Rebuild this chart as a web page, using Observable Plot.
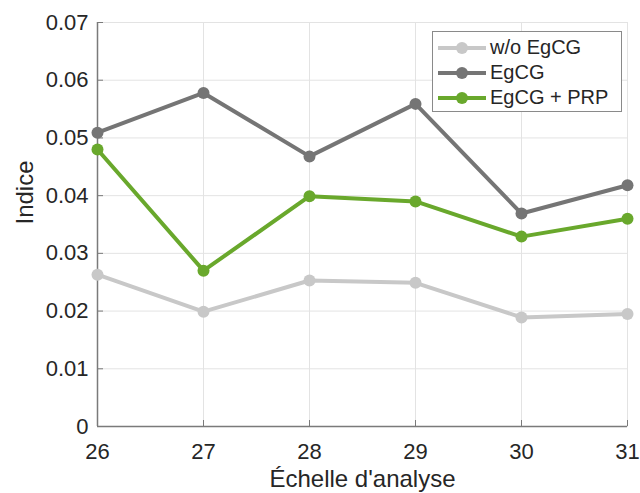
<!DOCTYPE html>
<html>
<head>
<meta charset="utf-8">
<script src="https://cdn.jsdelivr.net/npm/d3@7"></script>
<script src="https://cdn.jsdelivr.net/npm/@observablehq/plot@0.6"></script>
<style>
  body { margin: 0; background: #fff; }
  #wrap { position: relative; width: 640px; height: 493px; font-family: "Liberation Sans", Arial, sans-serif; }
  #legend { position: absolute; left: 432px; top: 31px; width: 190px; height: 81px; border: 1px solid #8a8a8a; background: #fff; box-sizing: border-box; padding-top: 3px; }
  .item { display: flex; align-items: center; height: 25px; font-size: 20px; color: #262626; }
  .item svg { margin-left: 4px; margin-right: 3px; }
</style>
</head>
<body>
<div id="wrap"></div>
<script>
const scales = [26, 27, 28, 29, 30, 31];
const seriesNames = ["w/o EgCG", "EgCG", "EgCG + PRP"];
const woEgCG = [0.0263, 0.0199, 0.0253, 0.0249, 0.0189, 0.0195];
const egCG = [0.0509, 0.0578, 0.0468, 0.0559, 0.0369, 0.0418];
const egCGPRP = [0.0480, 0.0270, 0.0399, 0.0390, 0.0329, 0.0360];
const colors = ["#c8c8c8", "#757575", "#69a82c"];
const yTicks = [0, 0.01, 0.02, 0.03, 0.04, 0.05, 0.06, 0.07];
const xTicks = [26, 27, 28, 29, 30, 31];

const seriesValues = [woEgCG, egCG, egCGPRP];
const data = [];
seriesNames.forEach((name, i) => scales.forEach((s, j) => data.push({series: name, x: s, y: seriesValues[i][j]})));

const chart = Plot.plot({
  width: 640,
  height: 493,
  marginLeft: 97,
  marginRight: 13,
  marginTop: 22,
  marginBottom: 67,
  style: { fontFamily: "Liberation Sans, Arial, sans-serif", color: "#262626", background: "#fff" },
  x: { domain: [26, 31] },
  y: { domain: [0, 0.07] },
  color: { domain: seriesNames, range: colors },
  marks: [
    Plot.gridX(xTicks, { stroke: "#e3e3e3", strokeOpacity: 1 }),
    Plot.gridY(yTicks, { stroke: "#e3e3e3", strokeOpacity: 1 }),
    Plot.frame({ stroke: "#e3e3e3" }),
    Plot.axisX({ ticks: xTicks, tickSize: 0, tickPadding: 17, fontSize: 22, label: "Échelle d'analyse", labelArrow: "none", labelAnchor: "center", labelOffset: 60, tickFormat: d => String(d) }),
    Plot.axisY({ ticks: yTicks, tickSize: 0, tickPadding: 9, fontSize: 22, label: null, tickFormat: d => d === 0 ? "0" : d.toFixed(2) }),
    Plot.axisX({ ticks: xTicks, tickSize: 6, dy: -6, fill: "none", label: null, stroke: "#7a7a7a" }),
    Plot.axisY({ ticks: yTicks, tickSize: 6, dx: 6, fill: "none", label: null, stroke: "#7a7a7a" }),
    Plot.ruleX([26], { stroke: "#7a7a7a", strokeWidth: 1.5 }),
    Plot.ruleY([0], { stroke: "#7a7a7a", strokeWidth: 1.5 }),
    Plot.lineY(data, { x: "x", y: "y", z: "series", stroke: "series", strokeWidth: 4 }),
    Plot.dot(data, { x: "x", y: "y", fill: "series", r: 6 }),
    Plot.text(["Indice"], { frameAnchor: "left", dx: -72, rotate: -90, fontSize: 24, fill: "#262626" })
  ]
});
chart.querySelectorAll("[aria-label='x-axis label'] text").forEach(t => t.setAttribute("font-size", "24"));
const wrap = document.getElementById("wrap");
wrap.appendChild(chart);

const legend = document.createElement("div");
legend.id = "legend";
seriesNames.forEach((name, i) => {
  const item = document.createElement("div");
  item.className = "item";
  item.innerHTML = `<svg width="50" height="14"><line x1="1" y1="7" x2="49" y2="7" stroke="${colors[i]}" stroke-width="4"/><circle cx="25" cy="7" r="6" fill="${colors[i]}"/></svg><span>${name}</span>`;
  legend.appendChild(item);
});
wrap.appendChild(legend);
</script>
</body>
</html>
